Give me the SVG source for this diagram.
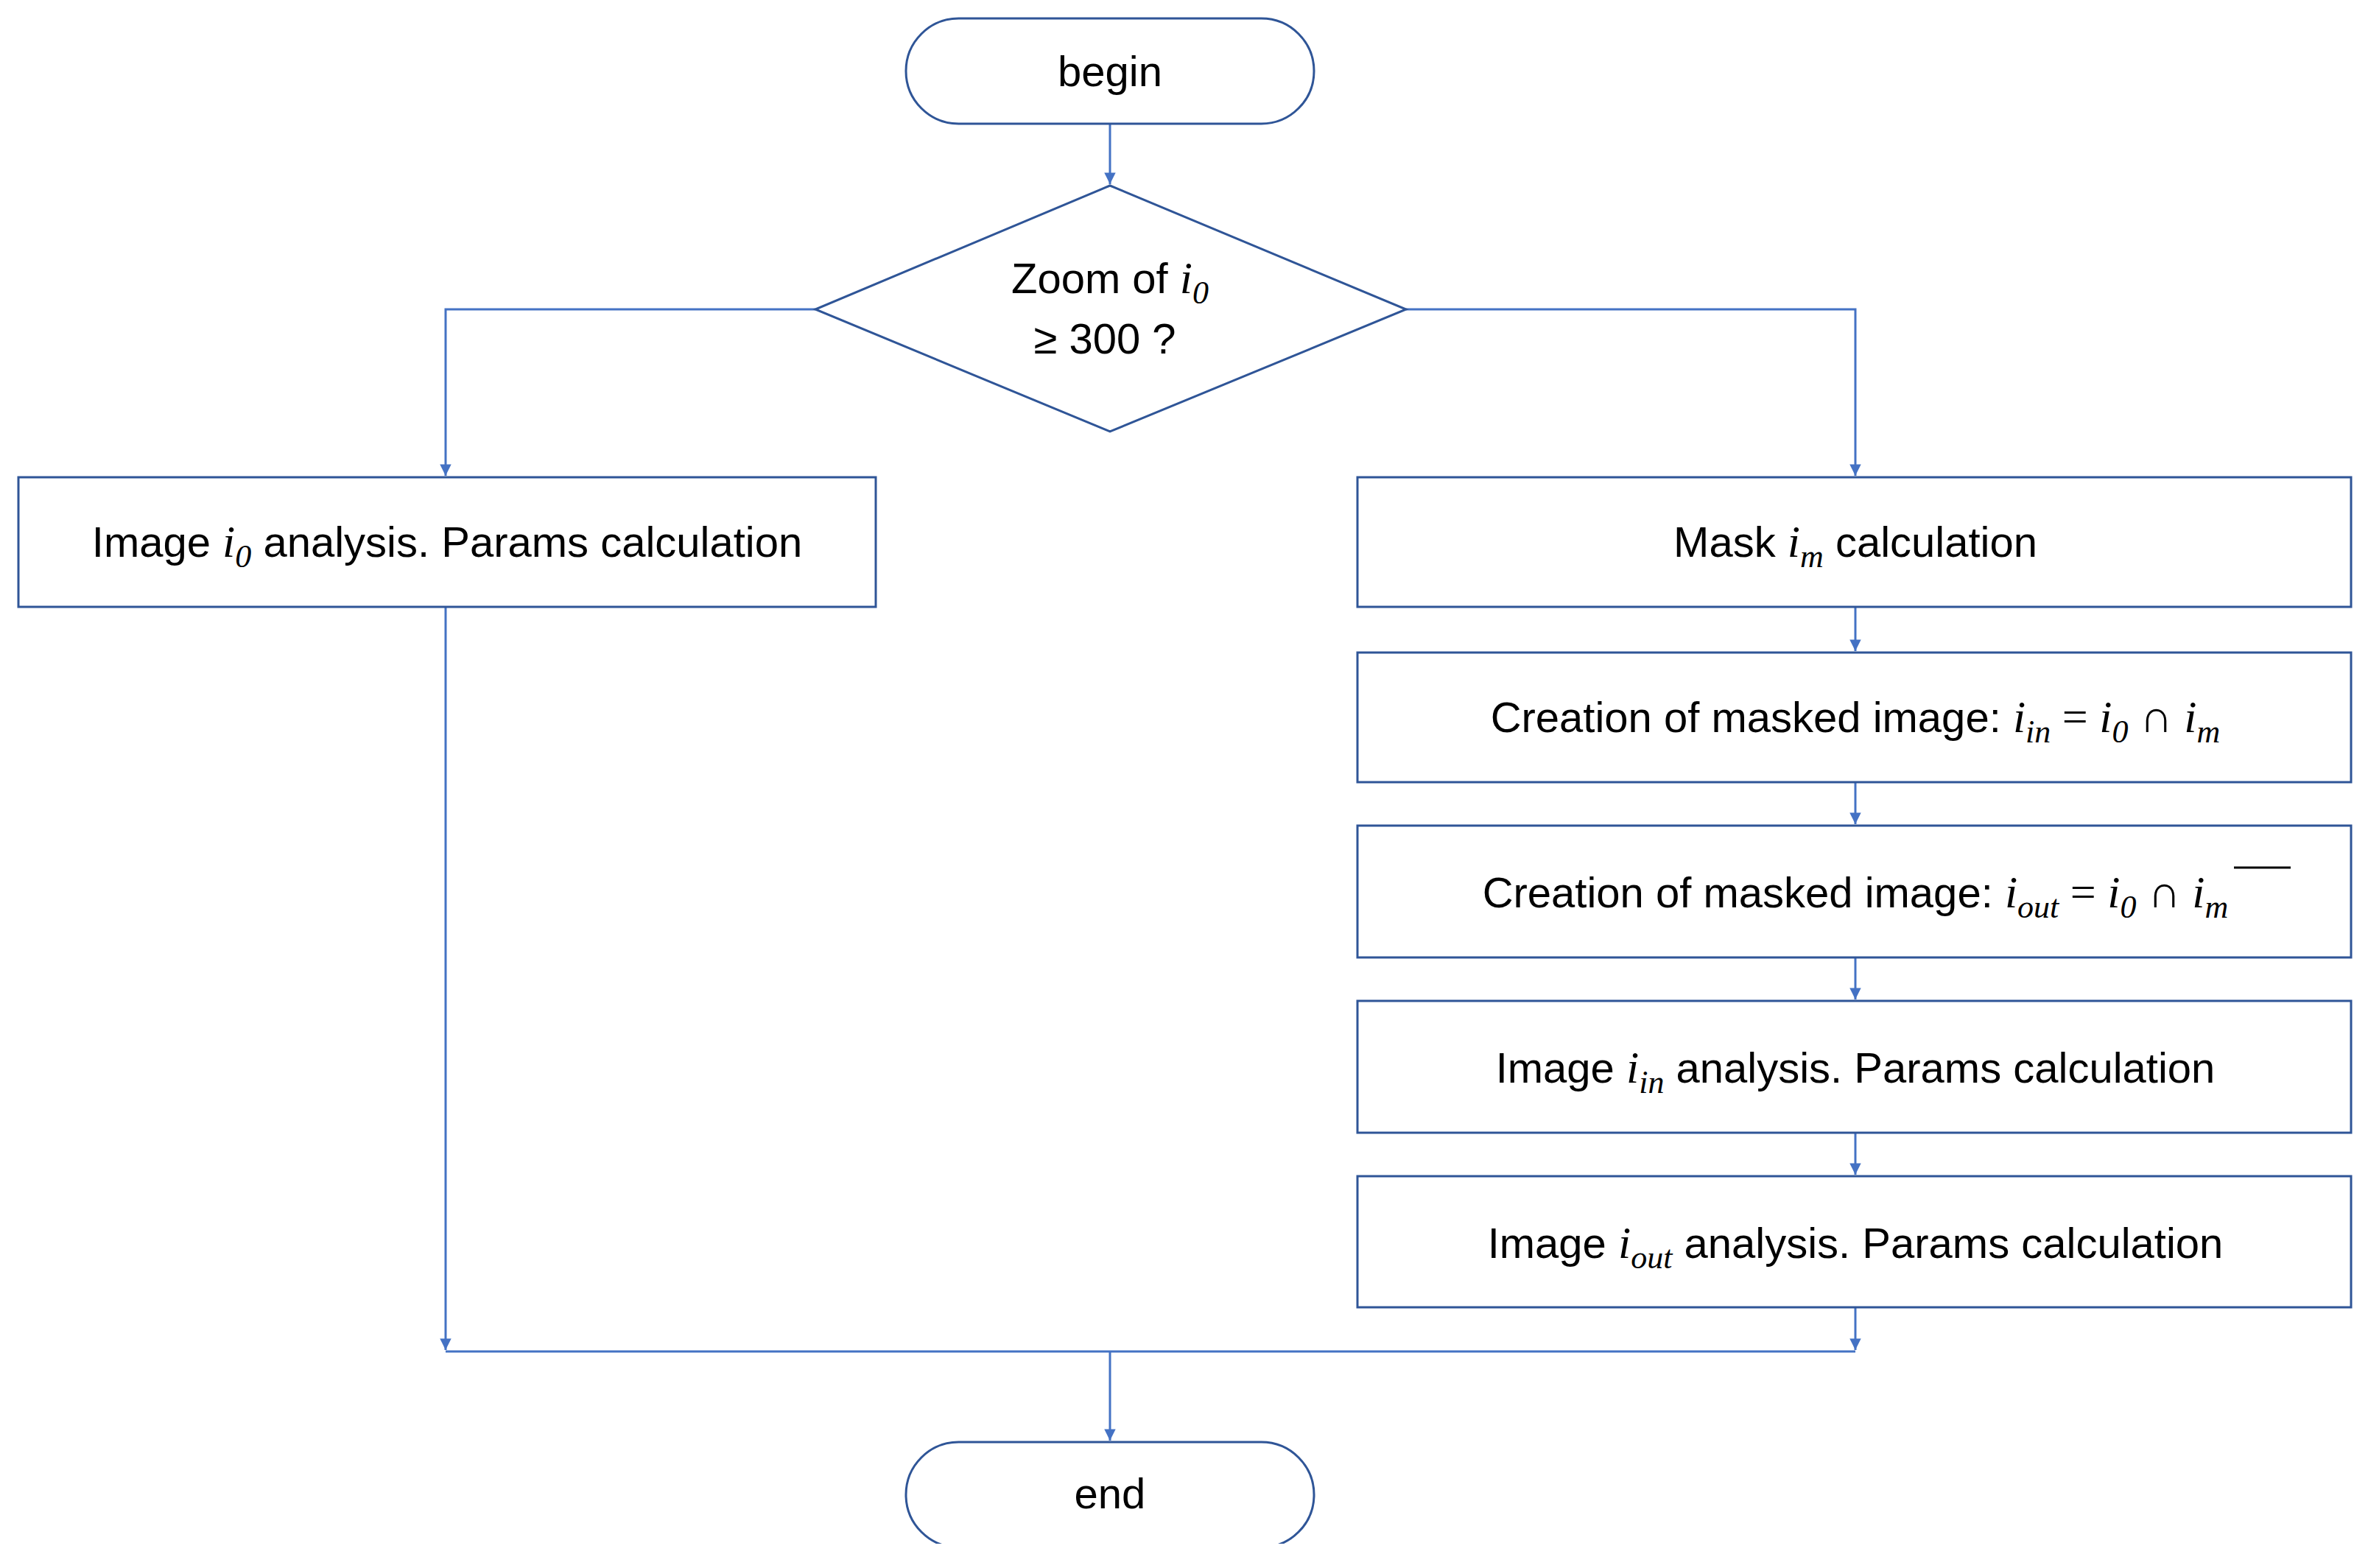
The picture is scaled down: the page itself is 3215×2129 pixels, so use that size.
<svg xmlns="http://www.w3.org/2000/svg" width="3215" height="2129" viewBox="0 0 3215 2129">
<style>
.n{fill:#fff;stroke:#2F5597;stroke-width:3}
.c{fill:none;stroke:#4472C4;stroke-width:3}
text{font-family:"Liberation Sans",Arial,sans-serif;font-size:58px;fill:#000;text-anchor:middle}
.m{font-family:"Liberation Serif","DejaVu Serif",serif;font-style:italic;font-size:62px}
.s{font-family:"Liberation Serif","DejaVu Serif",serif;font-style:italic;font-size:44px}
.r{font-family:"Liberation Serif","DejaVu Serif",serif;font-size:62px}
</style>
<defs>
<marker id="a" viewBox="0 0 10 10" refX="10" refY="5" markerWidth="7" markerHeight="7" markerUnits="userSpaceOnUse" orient="auto" style="overflow:visible"><path d="M0,0 L10,5 L0,10 z" fill="#4472C4" transform="scale(2.2) translate(-5.5,-2.7)"/></marker>
<clipPath id="cl"><rect x="0" y="0" width="3215" height="2096"/></clipPath>
</defs>
<g id="connectors">
<line class="c" x1="1507" y1="168" x2="1507" y2="250" marker-end="url(#a)"/>
<polyline class="c" points="1107,420 605,420 605,646" marker-end="url(#a)"/>
<polyline class="c" points="1909,420 2519,420 2519,646" marker-end="url(#a)"/>
<line class="c" x1="2519" y1="824" x2="2519" y2="884" marker-end="url(#a)"/>
<line class="c" x1="2519" y1="1062" x2="2519" y2="1119" marker-end="url(#a)"/>
<line class="c" x1="2519" y1="1300" x2="2519" y2="1357" marker-end="url(#a)"/>
<line class="c" x1="2519" y1="1538" x2="2519" y2="1595" marker-end="url(#a)"/>
<line class="c" x1="605" y1="824" x2="605" y2="1833" marker-end="url(#a)"/>
<line class="c" x1="2519" y1="1775" x2="2519" y2="1833" marker-end="url(#a)"/>
<line class="c" x1="605" y1="1835" x2="2519" y2="1835"/>
<line class="c" x1="1507" y1="1835" x2="1507" y2="1956" marker-end="url(#a)"/>
</g>
<g id="begin"><rect class="n" x="1230" y="25" width="554" height="143" rx="71.5"/><text x="1507" y="117">begin</text></g>
<g id="decision"><polygon class="n" points="1507,252 1909,420 1507,586 1107,420"/>
<text x="1507" y="398">Zoom of <tspan class="m">i</tspan><tspan class="s" dy="14">0</tspan></text>
<text x="1500" y="480">≥ 300 ?</text></g>
<g id="left"><rect class="n" x="25" y="648" width="1164" height="176"/>
<text x="607" y="756">Image <tspan class="m">i</tspan><tspan class="s" dy="14">0</tspan><tspan dy="-14"> analysis. Params calculation</tspan></text></g>
<g id="mask"><rect class="n" x="1843" y="648" width="1349" height="176"/>
<text x="2519" y="756">Mask <tspan class="m">i</tspan><tspan class="s" dy="14">m</tspan><tspan dy="-14"> calculation</tspan></text></g>
<g id="in"><rect class="n" x="1843" y="886" width="1349" height="176"/>
<text x="2519" y="994">Creation of masked image: <tspan class="m">i</tspan><tspan class="s" dy="14">in</tspan><tspan class="r" dy="-14"> = </tspan><tspan class="m">i</tspan><tspan class="s" dy="14">0</tspan><tspan class="r" dy="-14"> ∩ </tspan><tspan class="m">i</tspan><tspan class="s" dy="14">m</tspan></text></g>
<g id="out"><rect class="n" x="1843" y="1121" width="1349" height="179"/>
<text x="2519" y="1232">Creation of masked image: <tspan class="m">i</tspan><tspan class="s" dy="14">out</tspan><tspan class="r" dy="-14"> = </tspan><tspan class="m">i</tspan><tspan class="s" dy="14">0</tspan><tspan class="r" dy="-14"> ∩ </tspan><tspan class="m">i</tspan><tspan class="s" dy="14">m</tspan></text>
<line x1="3033" y1="1178" x2="3110" y2="1178" stroke="#000" stroke-width="3"/></g>
<g id="anin"><rect class="n" x="1843" y="1359" width="1349" height="179"/>
<text x="2519" y="1470">Image <tspan class="m">i</tspan><tspan class="s" dy="14">in</tspan><tspan dy="-14"> analysis. Params calculation</tspan></text></g>
<g id="anout"><rect class="n" x="1843" y="1597" width="1349" height="178"/>
<text x="2519" y="1708">Image <tspan class="m">i</tspan><tspan class="s" dy="14">out</tspan><tspan dy="-14"> analysis. Params calculation</tspan></text></g>
<g id="end" clip-path="url(#cl)"><rect class="n" x="1230" y="1958" width="554" height="143" rx="71.5"/><text x="1507" y="2048">end</text></g>
</svg>
